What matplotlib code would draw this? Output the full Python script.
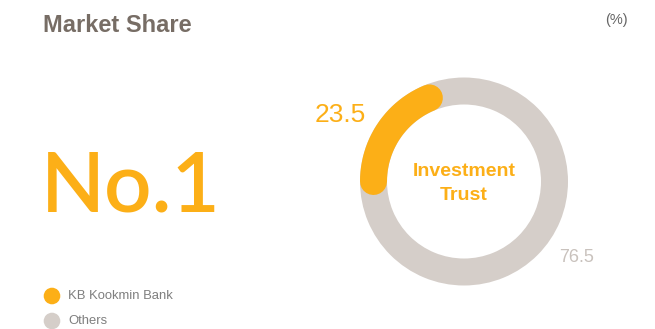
import numpy as np
import matplotlib
matplotlib.use("Agg")
import matplotlib.pyplot as plt
from matplotlib.patches import Wedge, Circle

# Market share data (%)
labels = ["KB Kookmin Bank", "Others"]
shares = [23.5, 76.5]
colors = ["#FCAF17", "#D5CEC9"]
center_title = ["Investment", "Trust"]

W, H = 655, 329
fig = plt.figure(figsize=(W / 100, H / 100), dpi=100)
ax = fig.add_axes([0, 0, 1, 1])
ax.set_xlim(0, W)
ax.set_ylim(0, H)
ax.set_aspect("equal")
ax.axis("off")

# Donut geometry (pixel-like data units)
cx, cy = 464, 329 - 181.5
r_out, ring_w = 104, 27
r_mid = r_out - ring_w / 2

# Full background ring
ax.add_patch(Wedge((cx, cy), r_out, 0, 360, width=ring_w, color=colors[1], lw=0))

# Highlighted arc with round ends; visible extent equals the share of the circle
span = shares[0] / sum(shares) * 360
cap_deg = np.degrees((ring_w / 2) / r_mid)
start = 180.0
end = start - (span - 2 * cap_deg)
theta = np.radians(np.linspace(start, end, 200))
lw_pt = ring_w * 72 / 100
ax.plot(cx + r_mid * np.cos(theta), cy + r_mid * np.sin(theta),
        color=colors[0], lw=lw_pt, solid_capstyle="round")

# Value labels
ax.text(366, 329 - 115, f"{shares[0]}", color=colors[0], fontsize=19,
        ha="right", va="center", family="Liberation Sans")
ax.text(559, 329 - 257, f"{shares[1]}", color="#C9C2BD", fontsize=13,
        ha="left", va="center", family="Liberation Sans")

# Center caption
ax.text(cx, 329 - 171, center_title[0], color=colors[0], fontsize=14,
        fontweight="bold", ha="center", va="center", family="Liberation Sans")
ax.text(cx, 329 - 195, center_title[1], color=colors[0], fontsize=14,
        fontweight="bold", ha="center", va="center", family="Liberation Sans")

# Title and unit
ax.text(43, 329 - 26, "Market Share", color="#776D65", fontsize=17,
        fontweight="bold", ha="left", va="center", family="Liberation Sans")
ax.text(628, 329 - 20, "(%)", color="#666666", fontsize=10.5,
        ha="right", va="center", family="Liberation Sans")

# Big rank text
ax.text(41, 329 - 212, "No.1", color=colors[0], fontsize=60,
        fontweight="semibold", ha="left", va="baseline", family="Lato")

# Legend
for i, (lab, col) in enumerate(zip(labels, colors)):
    y = 329 - (296 + 25 * i)
    ax.add_patch(Circle((52, y), 8.3, color=col, lw=0))
    ax.text(68, y, lab, color="#7F7F7F", fontsize=9.4, ha="left",
            va="center", family="Liberation Sans")

fig.savefig("out.png", dpi=100)
